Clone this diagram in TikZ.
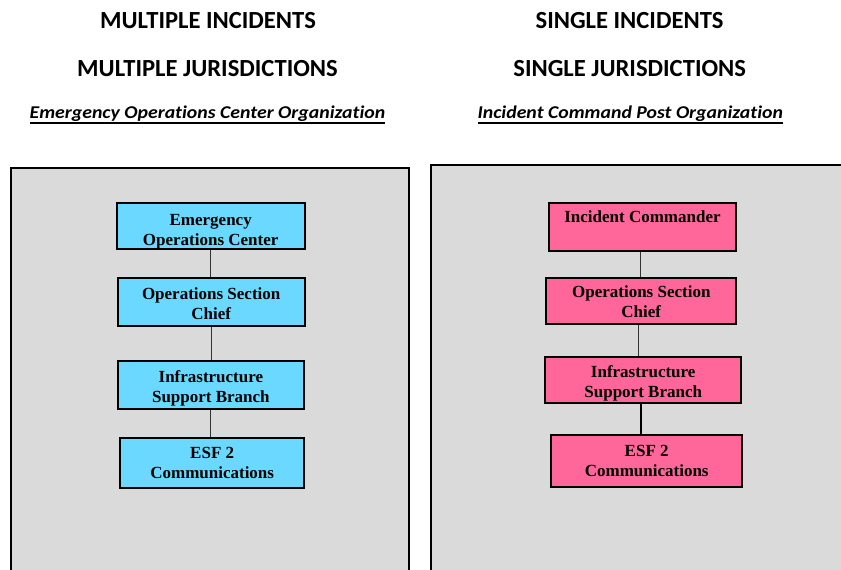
\documentclass[tikz,border=0pt]{standalone}
\usepackage{fontspec}
\setmainfont{Liberation Serif}
\newfontfamily\headfont[Ligatures=NoCommon]{Carlito}
\definecolor{eocblue}{HTML}{6BD8FF}
\definecolor{icppink}{HTML}{FF6699}
\definecolor{panelgray}{HTML}{DADADA}
\newcommand\myul[1]{\setbox0=\hbox{#1}\leavevmode\rlap{\copy0}\rule[-6pt]{\wd0}{2pt}}
\newcommand\boxtext[2][3pt]{\raisebox{-#1}[\height][\depth]{\begin{tabular}{@{}c@{}}#2\end{tabular}}}
\begin{document}
\begin{tikzpicture}[x=1pt,y=-1pt,
  panel/.style={draw=black,line width=2pt,fill=panelgray},
  head/.style={anchor=base,inner sep=0pt,font=\headfont\bfseries\fontsize{24.6}{28}\selectfont},
  sub/.style={anchor=base,inner sep=0pt,font=\headfont\bfseries\itshape\fontsize{18}{21}\selectfont},
  orgbox/.style={draw=black,line width=2pt,inner sep=0pt,
    font=\bfseries\fontsize{17}{20}\selectfont},
  bluebox/.style={orgbox,fill=eocblue},
  pinkbox/.style={orgbox,fill=icppink},
  link/.style={draw=black!80,line width=1pt},
  thicklink/.style={draw=black,line width=2pt}]
\useasboundingbox (0,0) rectangle (841,570);
\clip (0,0) rectangle (841,570);
\fill[white] (0,0) rectangle (841,570);
% panels
\draw[panel] (11,167.7) rectangle (409,620);
\draw[panel] (430.5,164.5) rectangle (900,620);
% headings
\node[head] (hl1) at (208,28.3) {MULTIPLE INCIDENTS};
\node[head] (hl2) at (207.5,76.7) {MULTIPLE JURISDICTIONS};
\node[sub] (hl3) at (207.5,118.3) {\scalebox{1.1}[1]{\myul{Emergency Operations Center Organization}}};
\node[head] (hr1) at (629.5,28.3) {SINGLE INCIDENTS};
\node[head] (hr2) at (629.7,76.7) {SINGLE JURISDICTIONS};
\node[sub] (hr3) at (630.3,118.3) {\scalebox{1.1}[1]{\myul{Incident Command Post Organization}}};
% left chart
\node[bluebox,minimum width=188pt,minimum height=46.6pt] (L1) at (210.7,226) {\boxtext[5pt]{Emergency\\Operations Center}};
\node[bluebox,minimum width=187pt,minimum height=47.4pt] (L2) at (211.2,302) {\boxtext{Operations Section\\Chief}};
\node[bluebox,minimum width=186.3pt,minimum height=48pt] (L3) at (210.9,385) {\boxtext[3.5pt]{Infrastructure\\Support Branch}};
\node[bluebox,minimum width=183.7pt,minimum height=50.3pt] (L4) at (212.2,462.9) {\boxtext[2pt]{ESF 2\\Communications}};
\draw[link] (L1.south) -- (L1.south |- L2.north);
\draw[link] (L2.south) -- (L2.south |- L3.north);
\draw[link] (L3.south) -- (L3.south |- L4.north);
% right chart
\node[pinkbox,minimum width=187.6pt,minimum height=47.7pt] (R1) at (642.5,226.9) {\boxtext[1.5pt]{Incident Commander\\\mbox{}}};
\node[pinkbox,minimum width=190pt,minimum height=45.7pt] (R2) at (641.3,301.2) {\boxtext[2.5pt]{Operations Section\\Chief}};
\node[pinkbox,minimum width=196.3pt,minimum height=46.6pt] (R3) at (643.2,380) {\boxtext{Infrastructure\\Support Branch}};
\node[pinkbox,minimum width=191.3pt,minimum height=51.4pt] (R4) at (646.7,461) {\boxtext[1.5pt]{ESF 2\\Communications}};
\coordinate (c1) at ([xshift=-2pt]R1.south);
\coordinate (c2) at ([xshift=-3pt]R2.south);
\coordinate (c3) at ([xshift=-2pt]R3.south);
\draw[link] (c1) -- (c1 |- R2.north);
\draw[link] (c2) -- (c2 |- R3.north);
\draw[thicklink] (c3) -- (c3 |- R4.north);
\end{tikzpicture}
\end{document}
